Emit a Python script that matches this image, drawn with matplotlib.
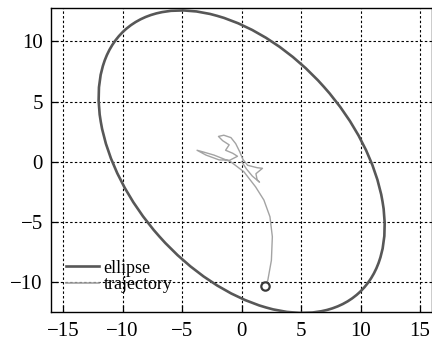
import matplotlib
matplotlib.use("Agg")
import matplotlib.pyplot as plt
from matplotlib.patches import Ellipse
from matplotlib.lines import Line2D

# ---- data ----
ellipse_center = (0.0, 0.0)
ellipse_width = 29.4
ellipse_height = 18.6
ellipse_angle = -48.0

traj_x = [2.0, 2.2, 2.5, 2.58, 2.38, 1.87, 1.17, 0.19, -0.93, -2.33, -3.2, -3.75,
          -3.0, -1.9, -1.0, -0.35, -0.75, -1.35, -1.05, -1.6, -1.95, -1.5, -0.9,
          -0.5, -0.15, 0.1, 0.5, 1.3, 1.75, 1.2, 1.3, 1.5, 0.9, 0.4, 0.0]
traj_y = [-10.3, -9.85, -8.2, -6.24, -4.58, -3.19, -2.09, -0.84, 0.0, 0.55, 0.8, 0.95,
          0.55, 0.15, 0.12, 0.45, 0.7, 0.95, 1.4, 1.75, 2.1, 2.2, 2.0,
          1.5, 0.8, 0.2, -0.3, -0.5, -0.55, -1.0, -1.5, -1.7, -1.2, -0.6, 0.0]
start_point = (2.0, -10.3)

xticks = [-15, -10, -5, 0, 5, 10, 15]
yticks = [-10, -5, 0, 5, 10]
labels = ["ellipse", "trajectory"]

ellipse_color = "#575757"
traj_color = "#a3a3a3"

plt.rcParams['font.family'] = ['Liberation Serif', 'DejaVu Serif']

fig = plt.figure(figsize=(4.32, 3.43), dpi=100)
ax = fig.add_axes([51.3 / 432, 1 - 312.3 / 343, (432.0 - 51.3) / 432, (312.3 - 8.3) / 343])

ax.add_patch(Ellipse(ellipse_center, ellipse_width, ellipse_height, angle=ellipse_angle,
                     fill=False, edgecolor=ellipse_color, lw=1.9, zorder=3))
ax.plot(traj_x, traj_y, color=traj_color, lw=1.0, zorder=3)
ax.plot([start_point[0]], [start_point[1]], marker='o', ms=6, mfc='white',
        mec='#3a3a3a', mew=1.6, zorder=4)

ax.set_xlim(-16, 16)
ax.set_ylim(-12.52, 12.75)
ax.set_xticks(xticks)
ax.set_yticks(yticks)
ax.set_xticklabels([str(t).replace('-', '\u2212') for t in xticks])
ax.set_yticklabels([str(t).replace('-', '\u2212') for t in yticks])
ax.tick_params(direction='in', length=5, width=0.9, labelsize=15, pad=6)
ax.tick_params(axis='x', pad=7)
ax.grid(True, color='black', linestyle=(0, (2.2, 2.0)), lw=0.8)
ax.set_axisbelow(True)
for s in ax.spines.values():
    s.set_linewidth(1.0)

handles = [Line2D([], [], color=ellipse_color, lw=1.9),
           Line2D([], [], color=traj_color, lw=1.2)]
ax.legend(handles, labels, loc='lower left', bbox_to_anchor=(0.038, 0.062),
          frameon=False, fontsize=13,
          labelspacing=-0.02, handlelength=1.85, handletextpad=0.25,
          borderaxespad=0.0, borderpad=0.0)

fig.savefig("out.png", dpi=100)
